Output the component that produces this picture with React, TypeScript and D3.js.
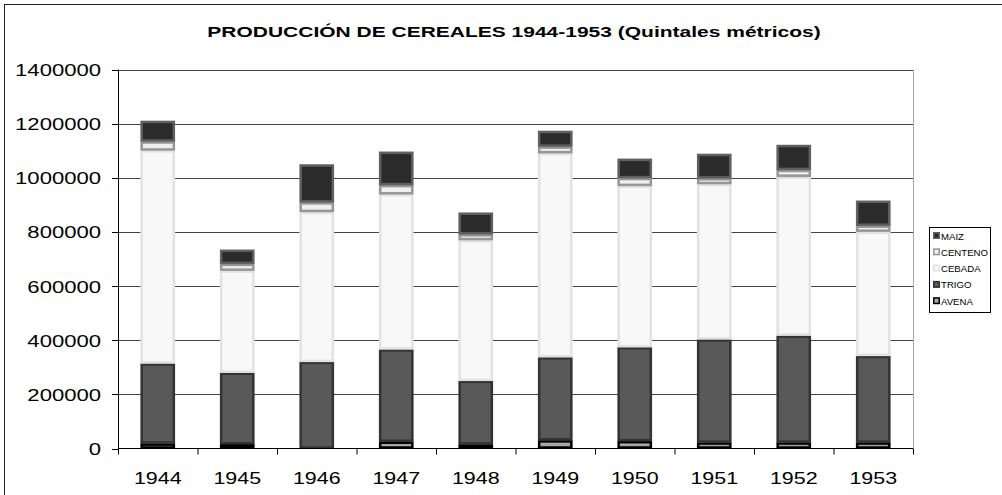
import * as d3 from "d3";

const years = ["1944", "1945", "1946", "1947", "1948", "1949", "1950", "1951", "1952", "1953"];
const avena = [18000, 16000, 0, 25000, 15000, 30000, 27000, 22000, 22000, 22000];
const trigo = [296000, 264000, 320000, 341000, 235000, 307000, 347000, 381000, 395000, 320000];
const cebada = [787000, 377000, 554000, 573000, 520000, 754000, 596000, 574000, 587000, 459000];
const centeno = [33000, 25000, 35000, 34000, 21000, 24000, 29000, 21000, 25000, 22000];
const maiz = [76000, 52000, 140000, 123000, 80000, 58000, 71000, 90000, 92000, 92000];
const yTicks = [0, 200000, 400000, 600000, 800000, 1000000, 1200000, 1400000];

// bottom to top
const series = [
  { key: "AVENA", values: avena, fill: "#a8a8a8", stroke: "#000000" },
  { key: "TRIGO", values: trigo, fill: "#595959", stroke: "#333333" },
  { key: "CEBADA", values: cebada, fill: "#f8f8f8", stroke: "#e2e2e2" },
  { key: "CENTENO", values: centeno, fill: "#eeeeee", stroke: "#969696" },
  { key: "MAIZ", values: maiz, fill: "#2b2b2b", stroke: "#606060" },
];

const W = 1002;
const H = 495;
const plot = { left: 118, right: 913, top: 69.5, bottom: 448.5 };
const font = "Arial, 'Liberation Sans', sans-serif";

// the original picture is stretched sideways, so text is widened a bit
const Txt = ({ x, y, sx, anchor, size, bold, children }: any) => (
  <text
    transform={`translate(${x},${y}) scale(${sx},1)`}
    textAnchor={anchor}
    fontSize={size}
    fontWeight={bold ? "bold" : "normal"}
    fill="#000"
  >
    {children}
  </text>
);

export default function App() {
  const rows = years.map((y, i) => {
    const r: any = { year: y };
    series.forEach((s) => (r[s.key] = s.values[i]));
    return r;
  });
  const stacked = d3.stack<any>().keys(series.map((s) => s.key))(rows);

  const x = d3.scaleBand().domain(years).range([plot.left, plot.right]).paddingInner(0.57).paddingOuter(0.285);
  const y = d3.scaleLinear().domain([0, 1400000]).range([plot.bottom, plot.top]);
  const step = (plot.right - plot.left) / years.length;

  return (
    <svg width={W} height={H} style={{ position: "absolute", left: 0, top: 0 }} fontFamily={font}>
      <rect x={0} y={0} width={W} height={H} fill="#fff" />
      <rect x={4.5} y={4.5} width={W + 20} height={H + 20} fill="none" stroke="#222" strokeWidth={1} />
      <Txt x={514} y={37} sx={1.4} anchor="middle" size={15} bold>
        PRODUCCIÓN DE CEREALES 1944-1953 (Quintales métricos)
      </Txt>

      {/* gridlines */}
      {yTicks.map((t) => (
        <g key={t}>
          {t > 0 && <line x1={plot.left} x2={plot.right} y1={Math.round(y(t)) + 0.5} y2={Math.round(y(t)) + 0.5} stroke="#444" />}
          <line x1={plot.left - 6} x2={plot.left} y1={Math.round(y(t)) + 0.5} y2={Math.round(y(t)) + 0.5} stroke="#000" />
          <Txt x={101} y={y(t) + 6.5} sx={1.38} anchor="end" size={16}>
            {t}
          </Txt>
        </g>
      ))}
      <line x1={plot.right + 0.5} x2={plot.right + 0.5} y1={plot.top} y2={plot.bottom} stroke="#aaa" />

      {/* bars */}
      {stacked.map((layer, si) =>
        layer.map((d, i) => {
          const h = y(d[0]) - y(d[1]);
          if (h <= 0) return null;
          return (
            <rect
              key={series[si].key + i}
              x={x(years[i])! + 1}
              y={y(d[1]) + 1}
              width={x.bandwidth() - 2}
              height={Math.max(h - 2, 0.5)}
              fill={series[si].fill}
              stroke={series[si].stroke}
              strokeWidth={2.5}
            />
          );
        })
      )}

      {/* axes */}
      <line x1={plot.left + 0.5} x2={plot.left + 0.5} y1={plot.top} y2={plot.bottom} stroke="#000" />
      <line x1={plot.left} x2={plot.right} y1={plot.bottom} y2={plot.bottom} stroke="#000" />
      {d3.range(years.length + 1).map((k) => (
        <line key={k} x1={plot.left + k * step + 0.5} x2={plot.left + k * step + 0.5} y1={plot.bottom} y2={plot.bottom + 6} stroke="#000" />
      ))}
      {years.map((yr) => (
        <Txt key={yr} x={x(yr)! + x.bandwidth() / 2} y={484} sx={1.3} anchor="middle" size={16.5}>
          {yr}
        </Txt>
      ))}

      {/* legend */}
      <rect x={929.5} y={227.5} width={61} height={85} fill="#fff" stroke="#000" />
      {[...series].reverse().map((s, i) => (
        <g key={s.key} transform={`translate(933,${232 + i * 16.3})`}>
          <rect x={0.75} y={0.75} width={5.5} height={5.5} fill={s.fill} stroke={s.stroke} strokeWidth={1.5} />
          <Txt x={8} y={7.5} sx={1.07} anchor="start" size={9}>
            {s.key}
          </Txt>
        </g>
      ))}
    </svg>
  );
}
